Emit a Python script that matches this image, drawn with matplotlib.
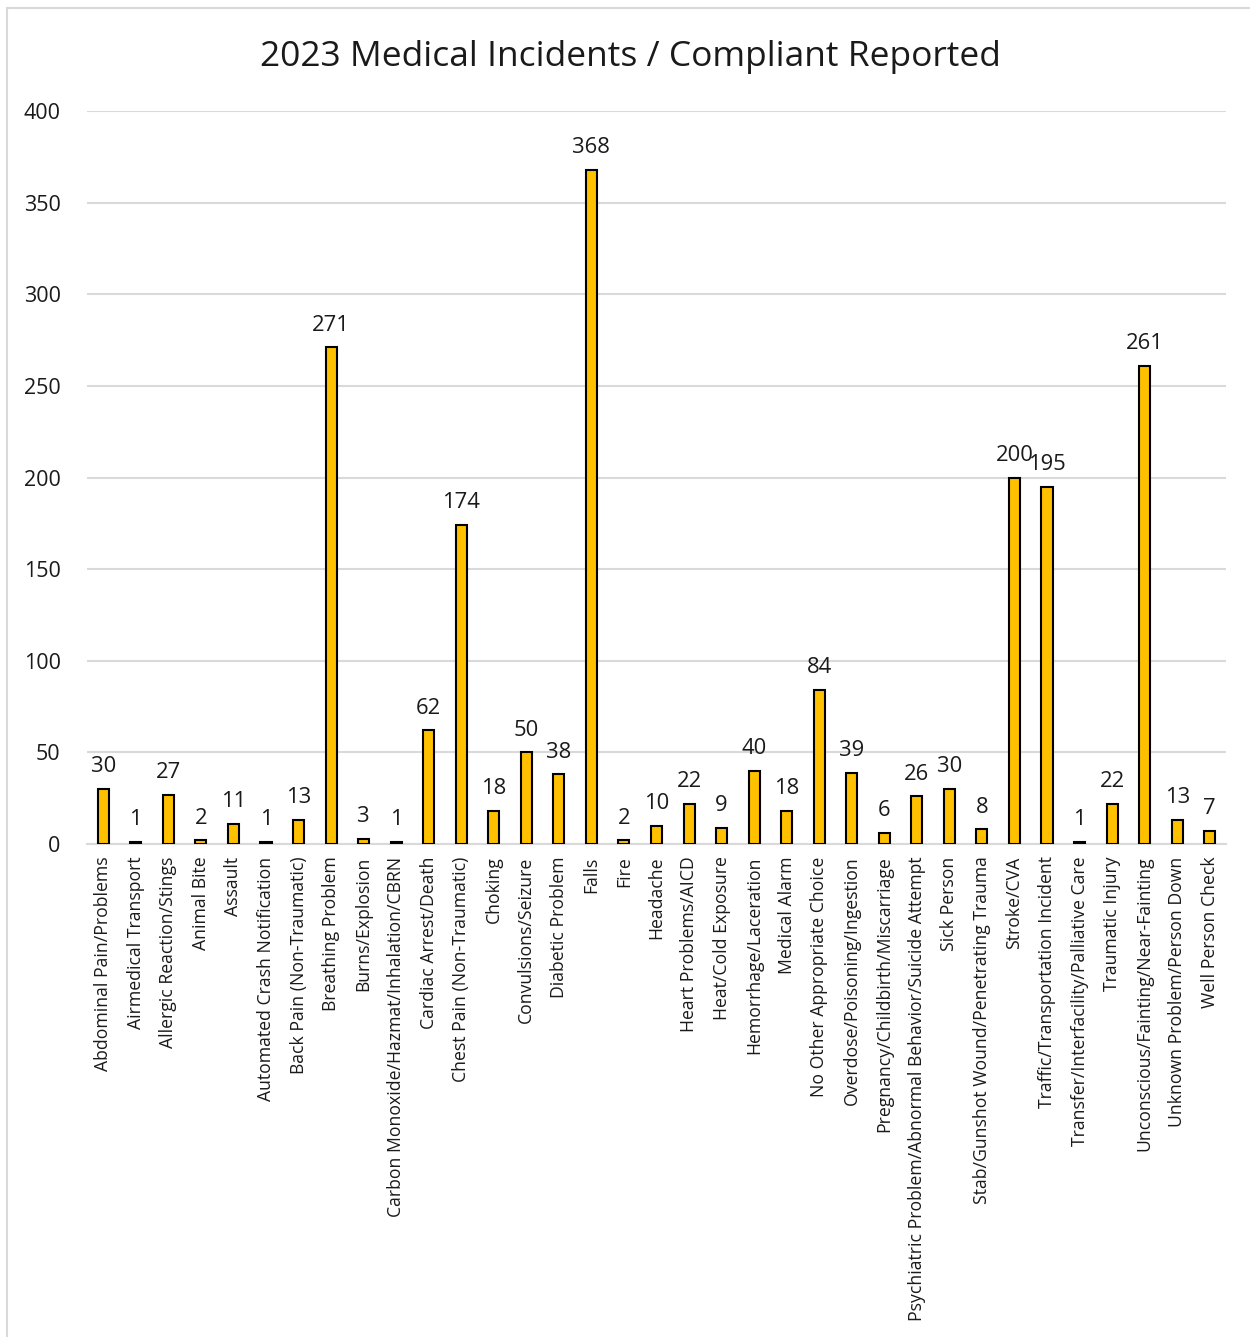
import numpy as np
import matplotlib.pyplot as plt
from matplotlib.patches import Rectangle

plt.rcParams['font.family'] = ['Open Sans', 'DejaVu Sans']

categories = [
    "Abdominal Pain/Problems", "Airmedical Transport", "Allergic Reaction/Stings",
    "Animal Bite", "Assault", "Automated Crash Notification",
    "Back Pain (Non-Traumatic)", "Breathing Problem", "Burns/Explosion",
    "Carbon Monoxide/Hazmat/Inhalation/CBRN", "Cardiac Arrest/Death",
    "Chest Pain (Non-Traumatic)", "Choking", "Convulsions/Seizure",
    "Diabetic Problem", "Falls", "Fire", "Headache", "Heart Problems/AICD",
    "Heat/Cold Exposure", "Hemorrhage/Laceration", "Medical Alarm",
    "No Other Appropriate Choice", "Overdose/Poisoning/Ingestion",
    "Pregnancy/Childbirth/Miscarriage",
    "Psychiatric Problem/Abnormal Behavior/Suicide Attempt", "Sick Person",
    "Stab/Gunshot Wound/Penetrating Trauma", "Stroke/CVA",
    "Traffic/Transportation Incident", "Transfer/Interfacility/Palliative Care",
    "Traumatic Injury", "Unconscious/Fainting/Near-Fainting",
    "Unknown Problem/Person Down", "Well Person Check",
]
counts = [30, 1, 27, 2, 11, 1, 13, 271, 3, 1, 62, 174, 18, 50, 38, 368, 2, 10,
          22, 9, 40, 18, 84, 39, 6, 26, 30, 8, 200, 195, 1, 22, 261, 13, 7]
y_ticks = [0, 50, 100, 150, 200, 250, 300, 350, 400]

W, H = 1250, 1337
fig = plt.figure(figsize=(W / 100, H / 100), dpi=100)
# axes box in pixels: left 87, right 1226, top 111 (400), bottom 844 (0)
ax = fig.add_axes([87 / W, 1 - 844 / H, (1226 - 87) / W, (844 - 111) / H])

x = np.arange(len(categories))
ax.bar(x, counts, width=0.34, color='#FFC000', edgecolor='black', linewidth=1.5, zorder=3)
for xi, v in zip(x, counts):
    ax.annotate(str(v), (xi, v), xytext=(0, 8.5), textcoords='offset points',
                ha='center', va='bottom', fontsize=15.8, color='#1a1a1a')

ax.set_xlim(-0.5, len(categories) - 0.5)
ax.set_ylim(0, 400)
ax.set_yticks(y_ticks)
ax.yaxis.grid(True, color='#d9d9d9', linewidth=1.5, zorder=0)
ax.set_xticks(x)
ax.set_xticklabels(categories, rotation=90, fontsize=12.7, color='#1a1a1a')
ax.tick_params(axis='both', length=0)
ax.tick_params(axis='x', pad=9)
ax.tick_params(axis='y', labelsize=15.5, labelcolor='#1a1a1a', pad=19)
for s in ['top', 'right', 'left']:
    ax.spines[s].set_visible(False)
ax.spines['bottom'].set_color('#d9d9d9')
ax.spines['bottom'].set_linewidth(1.5)

fig.text(630 / W, 1 - 57 / H, "2023 Medical Incidents / Compliant Reported",
         ha='center', va='center', fontsize=25.5, color='#1a1a1a')

fig.patches.append(Rectangle((7 / W, -0.1), 1.2, 1 - 8 / H + 0.1, transform=fig.transFigure,
                             fill=False, edgecolor='#d9d9d9', linewidth=1.5))

fig.savefig("out.png", dpi=100)
